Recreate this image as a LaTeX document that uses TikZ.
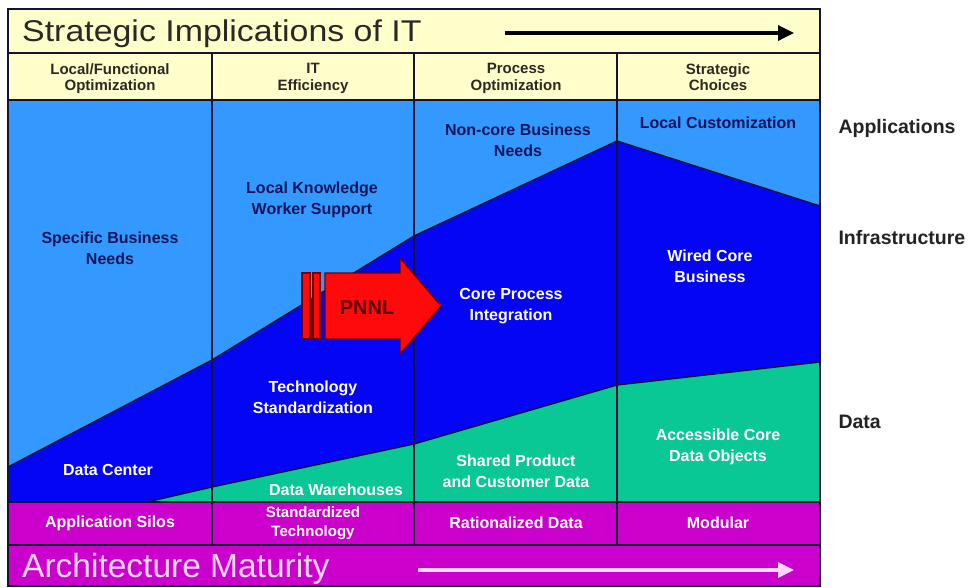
\documentclass[tikz,border=0pt]{standalone}
\usepackage{fontspec}
\setmainfont{Liberation Sans}
\newfontfamily\widefont[FakeStretch=1.13]{Liberation Sans}
\usetikzlibrary{arrows.meta}

\definecolor{hdrcream}{RGB}{255,255,204}
\definecolor{appblue}{RGB}{51,153,255}
\definecolor{infrablue}{RGB}{5,5,245}
\definecolor{datagreen}{RGB}{10,200,150}
\definecolor{archmag}{RGB}{204,0,204}
\definecolor{rulecol}{RGB}{20,20,50}
\definecolor{navytext}{RGB}{15,20,90}
\definecolor{headtext}{RGB}{45,40,35}
\definecolor{sidetext}{RGB}{35,35,35}
\definecolor{pnnlred}{RGB}{255,10,10}
\definecolor{pnnledge}{RGB}{110,0,0}
\definecolor{pnnltext}{RGB}{95,0,0}
\definecolor{pinkwhite}{RGB}{255,215,255}

\begin{document}
\begin{tikzpicture}[x=1pt,y=-1pt,
  rule/.style={draw=rulecol,line width=1.8pt},
  edge/.style={draw=rulecol,line width=1.4pt,line join=round},
  colhead/.style={align=center,text=headtext,text depth=0pt,font=\fontsize{15}{16.5}\selectfont\bfseries},
  darklbl/.style={align=center,text=navytext,font=\fontsize{16}{21}\selectfont\bfseries},
  lightlbl/.style={align=center,text=white,font=\fontsize{16}{21}\selectfont\bfseries},
  rowlbl/.style={align=center,text=white,font=\fontsize{16}{18}\selectfont\bfseries},
  sidelbl/.style={anchor=west,text=sidetext,font=\fontsize{19.5}{20}\selectfont\bfseries},
  bandarrow/.style={line width=3.4pt,-{Triangle[length=16pt,width=15pt]}},
]
\useasboundingbox (0,0) rectangle (969,587);
\fill[white] (0,0) rectangle (969,587);

% header bands
\fill[hdrcream] (8,9) rectangle (820,100);

% application layer (background of the main area)
\fill[appblue] (8,100) rectangle (820,502);

% infrastructure layer
\fill[infrablue] (8,467) -- (212,360) -- (414,236) -- (617,141) -- (820,206)
  -- (820,502) -- (8,502) -- cycle;
\draw[edge] (8,467) -- (212,360) -- (414,236) -- (617,141) -- (820,206);

% data layer
\fill[datagreen] (147,502) -- (212,487) -- (414,444) -- (617,385) -- (820,362)
  -- (820,502) -- cycle;
\draw[edge] (147,502) -- (212,487) -- (414,444) -- (617,385) -- (820,362);

% maturity bands
\fill[archmag] (8,502) rectangle (820,587);

% grid rules
\draw[rule] (8,53) -- (820,53);
\draw[rule] (8,100) -- (820,100);
\draw[rule] (8,502) -- (820,502);
\draw[rule] (8,545) -- (820,545);
\draw[rule] (212,53) -- (212,545);
\draw[rule] (414,53) -- (414,545);
\draw[rule] (617,53) -- (617,545);
\draw[rule] (8,9) rectangle (820,586);

% title row
\node[anchor=base west,text=headtext,font=\widefont\fontsize{30}{32}\selectfont,inner sep=0pt]
  (title) at (22,41.5) {Strategic Implications of IT};
\coordinate (tarrowA) at (505,33);
\coordinate (tarrowB) at (794,33);
\draw[bandarrow,draw=black] (tarrowA) -- (tarrowB);

% column headings
\node[colhead] (h1) at (110,77) {Local/Functional\\Optimization};
\node[colhead] (h2) at (313,77) {IT\\Efficiency};
\node[colhead] (h3) at (516,77) {Process\\Optimization};
\node[colhead] (h4) at (718,77) {Strategic\\Choices};

% application layer labels
\node[darklbl] (sbn) at (110,248) {Specific Business\\Needs};
\node[darklbl] (lkw) at (312,200) {Local Knowledge\\Worker Support};
\node[darklbl] (ncb) at (518,140) {Non-core Business\\Needs};
\node[darklbl] (lc)  at (718,123) {Local Customization};

% infrastructure layer labels
\node[lightlbl] (dc)  at (108,470) {Data Center};
\node[lightlbl] (ts)  at (313,397) {Technology\\Standardization};
\node[lightlbl] (cpi) at (511,306) {Core Process\\Integration};
\node[lightlbl] (wcb) at (710,266) {Wired Core\\Business};

% data layer labels
\node[lightlbl] (dw)  at (336,490) {Data Warehouses};
\node[lightlbl] (spc) at (516,471) {Shared Product\\and Customer Data};
\node[lightlbl] (acd) at (718,447) {Accessible Core\\Data Objects};

% maturity row labels
\node[rowlbl] (r1) at (110,523) {Application Silos};
\node[rowlbl,font=\fontsize{15}{18.5}\selectfont\bfseries] (r2) at (313,523) {Standardized\\Technology};
\node[rowlbl] (r3) at (516,523) {Rationalized Data};
\node[rowlbl] (r4) at (718,523) {Modular};

% bottom band
\node[anchor=base west,text=pinkwhite,font=\fontsize{33.5}{36}\selectfont,inner sep=0pt]
  (arch) at (22,577) {Architecture Maturity};
\coordinate (barrowA) at (418,570);
\coordinate (barrowB) at (794,570);
\draw[bandarrow,draw=pinkwhite] (barrowA) -- (barrowB);

% layer names on the right
\node[sidelbl] (lapp) at (835,128) {Applications};
\node[sidelbl] (linf) at (835,238) {Infrastructure};
\node[sidelbl] (ldat) at (835,422) {Data};

% striped PNNL arrow
\filldraw[fill=pnnlred,draw=pnnledge,line width=1.2pt,line join=miter]
  (325,273) -- (400,273) -- (400,258) -- (441,306) -- (400,354) -- (400,339)
  -- (325,339) -- cycle;
\filldraw[fill=pnnlred,draw=pnnledge,line width=1.2pt] (302,273) rectangle (310,339);
\filldraw[fill=pnnlred,draw=pnnledge,line width=1.2pt] (313,273) rectangle (320,339);
\node[text=pnnltext,font=\fontsize{20}{20}\selectfont\bfseries] (pnnl) at (367,308) {PNNL};
\end{tikzpicture}
\end{document}
